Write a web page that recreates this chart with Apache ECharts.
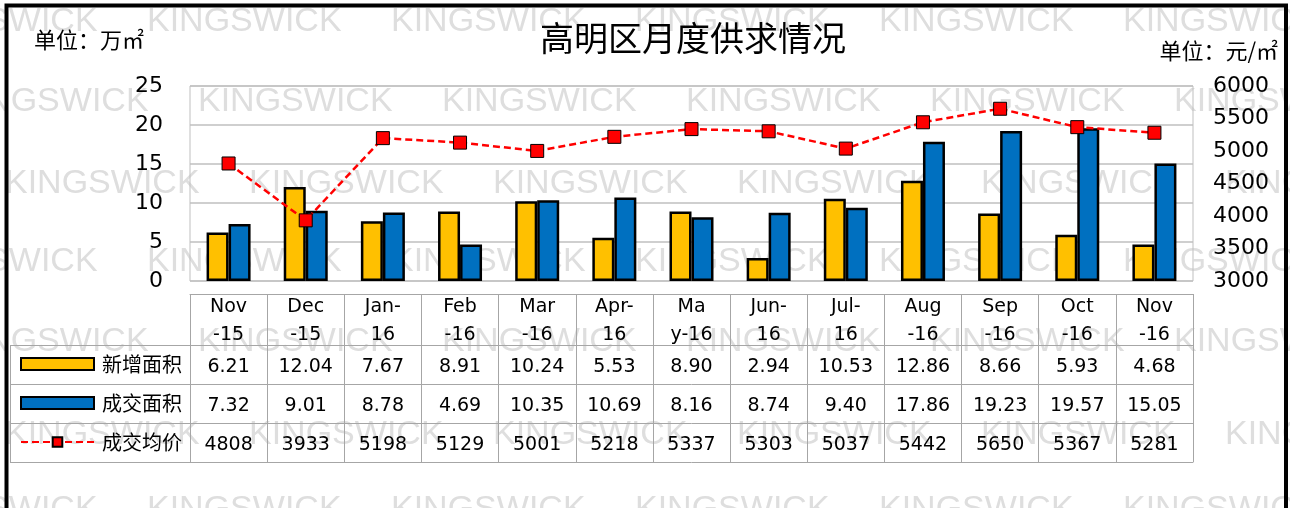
<!DOCTYPE html>
<html>
<head>
<meta charset="utf-8">
<script src="https://cdn.jsdelivr.net/npm/echarts@6/dist/echarts.min.js"></script>
<style>
  html, body { margin: 0; padding: 0; background: #fff; }
  #chart { width: 1290px; height: 508px; }
</style>
</head>
<body>
<div id="chart"></div>
<script>
// data
var months = ['Nov\n-15', 'Dec\n-15', 'Jan-\n16', 'Feb\n-16', 'Mar\n-16', 'Apr-\n16', 'Ma\ny-16',
              'Jun-\n16', 'Jul-\n16', 'Aug\n-16', 'Sep\n-16', 'Oct\n-16', 'Nov\n-16'];
var newArea = [6.21, 12.04, 7.67, 8.91, 10.24, 5.53, 8.90, 2.94, 10.53, 12.86, 8.66, 5.93, 4.68];
var dealArea = [7.32, 9.01, 8.78, 4.69, 10.35, 10.69, 8.16, 8.74, 9.40, 17.86, 19.23, 19.57, 15.05];
var avgPrice = [4808, 3933, 5198, 5129, 5001, 5218, 5337, 5303, 5037, 5442, 5650, 5367, 5281];
var seriesNames = ['新增面积', '成交面积', '成交均价'];

var numFont = 'DejaVu Sans';
var cjkFont = 'Noto Sans CJK SC';
var tableGray = '#a6a6a6';

var chart = echarts.init(document.getElementById('chart'));

// one table row = one extra x axis under the grid
function tableAxis(offset, height, labels, margin) {
    return {
        type: 'category',
        gridIndex: 0,
        position: 'bottom',
        offset: offset,
        data: months,
        axisLine: {show: true, lineStyle: {color: tableGray, width: 1}},
        axisTick: {show: height > 0, inside: true, length: height, interval: 0,
                   lineStyle: {color: tableGray, width: 1}},
        axisLabel: {
            show: !!labels, inside: true, interval: 0, margin: margin,
            fontSize: 19, lineHeight: 28, color: '#000', fontFamily: numFont,
            formatter: function (v, i) { return labels ? labels[i] : ''; }
        }
    };
}

// watermark + frame (decoration only)
var graphics = [];
var wmRows = [[22, -97], [102, -46], [184, 5], [262, -97], [342, -46], [435, 5], [510, -97]];
wmRows.forEach(function (r) {
    for (var x = r[1]; x < 1290; x += 244) {
        graphics.push({type: 'text', z: -10, x: x, y: r[0],
            style: {text: 'KINGSWICK', fill: '#dedede', font: '34px "Liberation Sans"', verticalAlign: 'middle'}});
    }
});
[345, 384, 423, 462].forEach(function (y) {
    graphics.push({type: 'line', shape: {x1: 10, y1: y + 0.5, x2: 190, y2: y + 0.5},
        style: {stroke: tableGray, lineWidth: 1}});
});
graphics.push({type: 'line', shape: {x1: 10.5, y1: 345, x2: 10.5, y2: 462},
    style: {stroke: tableGray, lineWidth: 1}});
graphics.push({type: 'rect', z: 100, shape: {x: 6.5, y: 5.5, width: 1279.5, height: 540},
    style: {fill: 'none', stroke: '#000', lineWidth: 4}});

var option = {
    backgroundColor: '#fff',
    animation: false,
    title: [
        {text: '高明区月度供求情况', left: 540, top: 21, padding: 0,
         textStyle: {fontSize: 34, fontWeight: 'normal', color: '#000', fontFamily: cjkFont}},
        {text: '单位：万㎡', left: 34, top: 29, padding: 0,
         textStyle: {fontSize: 22, fontWeight: 'normal', color: '#000', fontFamily: cjkFont}},
        {text: '单位：元/㎡', right: 12, top: 40, padding: 0,
         textStyle: {fontSize: 22, fontWeight: 'normal', color: '#000', fontFamily: cjkFont}}
    ],
    legend: {
        orient: 'vertical', left: 20, top: 354, padding: 0,
        itemWidth: 73, itemHeight: 12, itemGap: 19,
        textStyle: {fontSize: 20, lineHeight: 20, color: '#000', fontFamily: cjkFont, padding: [0, 0, 0, 3]},
        data: [{name: seriesNames[0], icon: 'rect'}, {name: seriesNames[1], icon: 'rect'}, {name: seriesNames[2]}]
    },
    grid: {left: 190, right: 97, top: 86, bottom: 227, show: true, borderColor: '#bfbfbf', borderWidth: 1},
    xAxis: [
        {type: 'category', data: months, axisLine: {show: false}, axisTick: {show: false}, axisLabel: {show: false}},
        tableAxis(13, 0, null, 0),
        tableAxis(64, 51, months, -4),
        tableAxis(103, 39, newArea.map(function (v) { return v.toFixed(2); }), 3),
        tableAxis(142, 39, dealArea.map(function (v) { return v.toFixed(2); }), 3),
        tableAxis(181, 39, avgPrice.map(String), 3)
    ],
    yAxis: [
        {type: 'value', min: 0, max: 25, interval: 5,
         axisLine: {show: false}, axisTick: {show: false},
         axisLabel: {fontSize: 22, color: '#000', fontFamily: numFont, margin: 27},
         splitLine: {lineStyle: {color: '#bfbfbf', width: 1.5}}},
        {type: 'value', min: 3000, max: 6000, interval: 500, position: 'right',
         axisLine: {show: false}, axisTick: {show: false},
         axisLabel: {fontSize: 22, color: '#000', fontFamily: numFont, margin: 20,
                     formatter: function (v) { return String(v); }},
         splitLine: {show: false}}
    ],
    series: [
        {name: seriesNames[0], type: 'bar', data: newArea, barWidth: 22, barGap: '0%',
         itemStyle: {color: '#FFC000', borderColor: '#000', borderWidth: 2.5}},
        {name: seriesNames[1], type: 'bar', data: dealArea, barWidth: 22, barGap: '0%',
         itemStyle: {color: '#0070C0', borderColor: '#000', borderWidth: 2.5}},
        {name: seriesNames[2], type: 'line', yAxisIndex: 1, data: avgPrice, z: 5,
         symbol: 'rect', symbolSize: 13,
         itemStyle: {color: '#FF0000', borderColor: '#000', borderWidth: 1},
         lineStyle: {color: '#FF0000', width: 2.5, type: [7, 4]}}
    ],
    graphic: graphics
};

chart.setOption(option);
</script>
</body>
</html>
